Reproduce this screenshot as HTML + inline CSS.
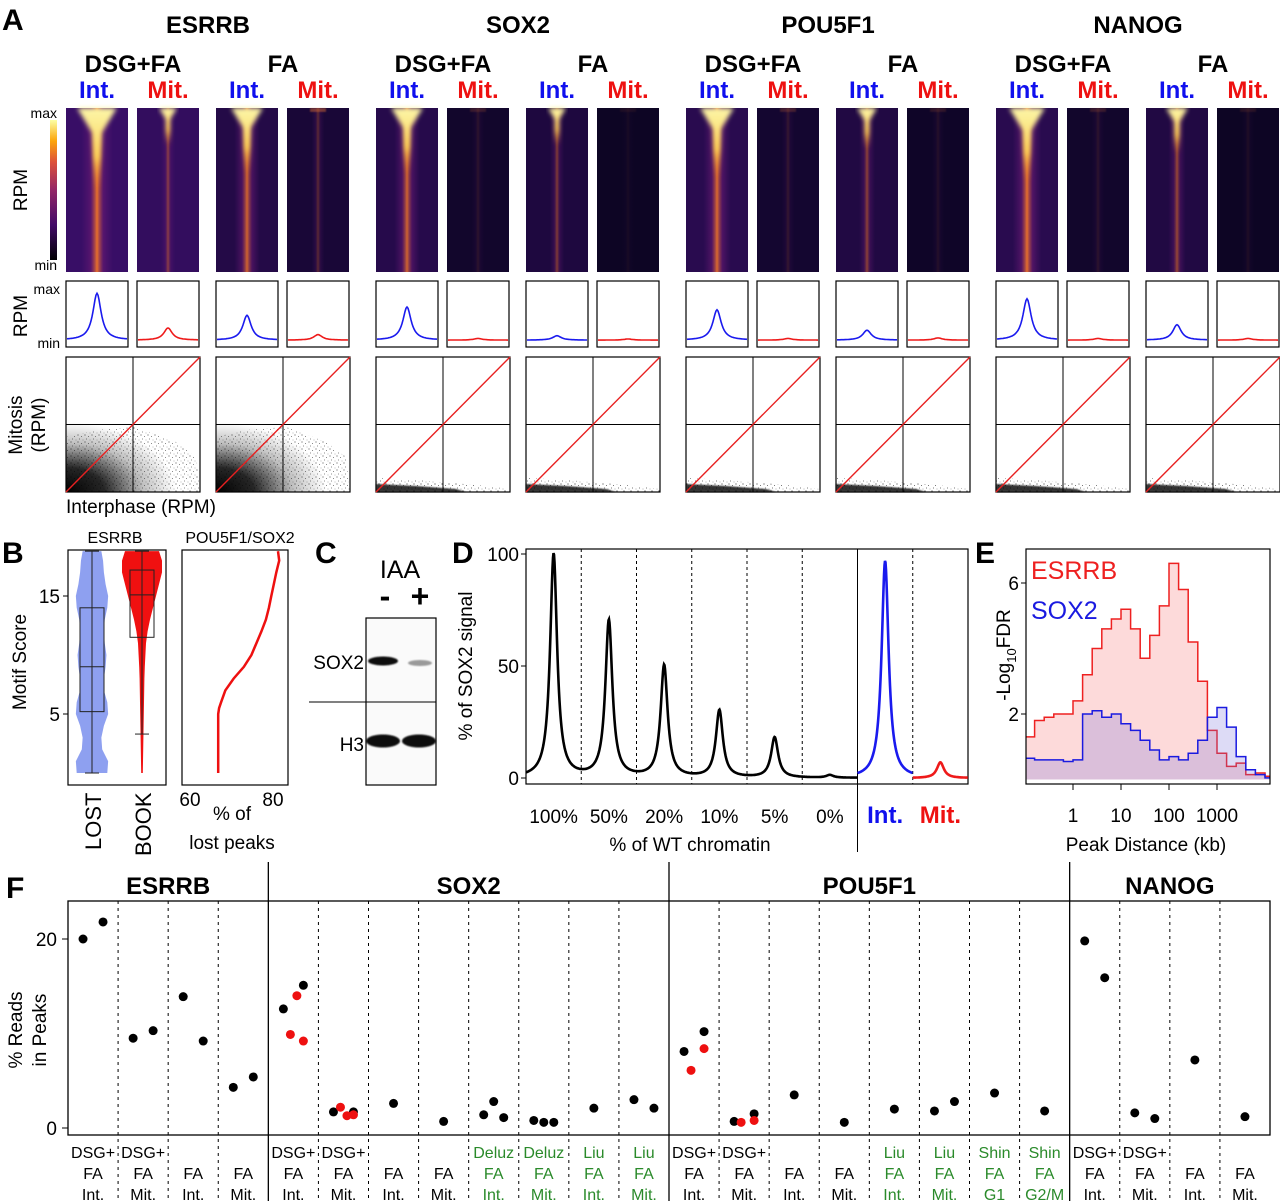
<!DOCTYPE html>
<html><head><meta charset="utf-8">
<style>
html,body{margin:0;padding:0;background:#fff;}
svg{display:block;font-family:"Liberation Sans",Arial,sans-serif;}
</style></head>
<body>
<svg id="fig" width="1280" height="1201" viewBox="0 0 1280 1201" xmlns="http://www.w3.org/2000/svg">
<defs>
<linearGradient id="cbar" x1="0" y1="1" x2="0" y2="0">
<stop offset="0" stop-color="#000004"/><stop offset="0.25" stop-color="#420a68"/><stop offset="0.5" stop-color="#932667"/><stop offset="0.7" stop-color="#dd513a"/><stop offset="0.85" stop-color="#fca50a"/><stop offset="1" stop-color="#fcffa4"/>
</linearGradient>
<linearGradient id="band" x1="0" y1="0" x2="1" y2="0">
<stop offset="0" stop-color="#5a1670" stop-opacity="0"/><stop offset="0.3" stop-color="#6a1a72" stop-opacity="0.6"/><stop offset="0.5" stop-color="#e8702a"/><stop offset="0.7" stop-color="#6a1a72" stop-opacity="0.6"/><stop offset="1" stop-color="#5a1670" stop-opacity="0"/>
</linearGradient>
<linearGradient id="vfade" x1="0" y1="0" x2="0" y2="1">
<stop offset="0" stop-color="#fcf6a8"/><stop offset="0.6" stop-color="#fbd35a"/><stop offset="1" stop-color="#f08a2a" stop-opacity="0"/>
</linearGradient>
<radialGradient id="cloud" cx="0" cy="1" r="1">
<stop offset="0" stop-color="#000" stop-opacity="1"/><stop offset="0.35" stop-color="#000" stop-opacity="0.85"/><stop offset="0.7" stop-color="#000" stop-opacity="0.25"/><stop offset="1" stop-color="#000" stop-opacity="0"/>
</radialGradient>
<filter id="blur3"><feGaussianBlur stdDeviation="2.5"/></filter>
<filter id="blur1"><feGaussianBlur stdDeviation="0.8"/></filter>
<pattern id="speck" width="7" height="7" patternUnits="userSpaceOnUse">
<circle cx="1" cy="1" r="0.6" fill="#000"/><circle cx="4.5" cy="2.5" r="0.5" fill="#000"/><circle cx="2.5" cy="5" r="0.5" fill="#000"/><circle cx="6" cy="6" r="0.4" fill="#000"/>
</pattern>
<clipPath id="clipE"><rect x="1026" y="549" width="244" height="235"/></clipPath>
</defs>
</svg>
<script>
// ---------- DATA ----------
const tfNames = ["ESRRB","SOX2","POU5F1","NANOG"];
const heatIntensity = [[1.0,0.45,0.8,0.3],[0.8,0.12,0.45,0.05],[0.85,0.15,0.5,0.1],[0.9,0.12,0.55,0.08]];
const heatBackground = [[0.9,0.8,0.5,0.3],[0.55,0.15,0.4,0.05],[0.6,0.2,0.45,0.1],[0.6,0.15,0.45,0.05]];
const profilePeak = [[0.85,0.22,0.45,0.1],[0.6,0.03,0.08,0.02],[0.55,0.03,0.18,0.04],[0.75,0.03,0.28,0.03]];
const scatterSpread = [[1.0,1.0],[0.35,0.3],[0.35,0.3],[0.3,0.3]];

const motifScores = [0,1,2,3,4,5,6,7,8,9,10,11,12,13,14,15,16,17,18,18.8];
const lostDensity = [0.9,0.95,0.6,0.55,0.7,0.95,0.9,0.7,0.7,0.8,0.85,0.75,0.7,0.75,0.9,0.95,0.8,0.7,0.65,0.55];
const bookDensity = [0.04,0.05,0.06,0.07,0.08,0.09,0.1,0.11,0.12,0.14,0.17,0.2,0.28,0.4,0.55,0.7,0.85,1.0,1.0,0.85];
const lostBox = [0, 5.2, 9.0, 14.0, 18.8];
const bookBox = [3.3, 11.5, 15.1, 17.2, 18.8];
const cumScores = [0,5,5.5,6,7,8,9,10,11,12,13,14,15,16,17,18,18.8];
const cumPercent = [66.8,66.8,67.0,67.5,68.5,70.5,73,74.8,76,77.2,78.3,79,79.6,80.2,80.8,81.5,81.2];

const dLabels = ["100%","50%","20%","10%","5%","0%","Int.","Mit."];
const dPeaks = [100,70,50,30,18,1.2,97,7];

const eBinStart = -1.0, eBinWidth = 0.2;
const esrrbFDR = [1.3,1.8,1.9,2.0,2.0,2.4,3.2,4.0,4.6,4.9,5.2,4.6,3.7,4.4,5.3,6.6,5.8,4.2,3.0,1.5,0.8,0.4,0.5,0.15,0.2,0.1];
const sox2FDR  = [0.65,0.6,0.6,0.6,0.55,0.6,2.0,2.1,1.9,2.0,1.7,1.5,1.2,0.9,0.6,0.7,0.6,0.8,1.2,1.9,2.2,1.6,0.7,0.3,0.15,0.05];
const eTicks = [1,10,100,1000];

const fGroups = ["ESRRB","SOX2","POU5F1","NANOG"];
const fGroupSize = [4,8,8,4];
const fLine1 = ["DSG+","DSG+","","","DSG+","DSG+","","","Deluz","Deluz","Liu","Liu","DSG+","DSG+","","","Liu","Liu","Shin","Shin","DSG+","DSG+","",""];
const fLine2 = ["FA","FA","FA","FA","FA","FA","FA","FA","FA","FA","FA","FA","FA","FA","FA","FA","FA","FA","FA","FA","FA","FA","FA","FA"];
const fLine3 = ["Int.","Mit.","Int.","Mit.","Int.","Mit.","Int.","Mit.","Int.","Mit.","Int.","Mit.","Int.","Mit.","Int.","Mit.","Int.","Mit.","G1","G2/M","Int.","Mit.","Int.","Mit."];
const fPublished = [0,0,0,0,0,0,0,0,1,1,1,1,0,0,0,0,1,1,1,1,0,0,0,0];
const fBlack = [[20,21.8],[9.5,10.3],[13.9,9.2],[4.3,5.4],[12.6,15.1],[1.7,1.7],[2.6],[0.7],[1.4,2.8,1.1],[0.8,0.6,0.6],[2.1],[3.0,2.1],
                [8.1,10.2],[0.7,1.5],[3.5],[0.6],[2.0],[1.8,2.8],[3.7],[1.8],[19.8,15.9],[1.6,1.0],[7.2],[1.2]];
const fRed = [[],[],[],[],[9.9,14.0,9.2],[2.2,1.3,1.4],[],[],[],[],[],[],
              [6.1,8.4],[0.6,0.8],[],[],[],[],[],[],[],[],[],[]];
const fTicks = [0,20];

// ---------- HELPERS ----------
const NS='http://www.w3.org/2000/svg';
const svg=document.getElementById('fig');
function mk(tag,attrs,parent){const e=document.createElementNS(NS,tag);for(const k in attrs)e.setAttribute(k,attrs[k]);(parent||svg).appendChild(e);return e;}
function tx(x,y,s,size,o){o=o||{};const e=mk('text',{x:x,y:y,'font-size':size,'text-anchor':o.anchor||'middle',fill:o.fill||'#000','font-weight':o.bold?'bold':'normal'},o.parent);if(o.rot)e.setAttribute('transform','rotate(-90 '+x+' '+y+')');e.textContent=s;return e;}
function g(name){const e=mk('g',{});return e;}
function mixHex(a,b,t){const pa=[1,3,5].map(i=>parseInt(a.substr(i,2),16)),pb=[1,3,5].map(i=>parseInt(b.substr(i,2),16));return 'rgb('+pa.map((v,i)=>Math.round(v+(pb[i]-v)*t)).join(',')+')';}

// ---------- PANEL A ----------
const gA=g('panel-a');
let t=tx(2,30,'A',30,{anchor:'start',bold:true,parent:gA});


let cb=mk('rect',{x:50,y:120,width:7,height:140,fill:'url(#cbar)'},gA);


t=tx(57,118,'max',14,{anchor:'end',parent:gA});


t=tx(57,270,'min',14,{anchor:'end',parent:gA});


t=tx(27,190,'RPM',19,{rot:true,parent:gA});


t=tx(27,316,'RPM',19,{rot:true,parent:gA});


t=tx(60,294,'max',14,{anchor:'end',parent:gA});


t=tx(60,348,'min',14,{anchor:'end',parent:gA});


t=tx(22,425,'Mitosis',19,{rot:true,parent:gA});


t=tx(45,425,'(RPM)',19,{rot:true,parent:gA});


t=tx(66,513,'Interphase (RPM)',19,{anchor:'start',parent:gA});



const colOff=[0,71,150,221];
tfNames.forEach((tf,gi)=>{
  const ox=66+310*gi;
  let tt=tx(ox+142,33,tf,24,{bold:true,parent:gA});
  
  
  tt=tx(ox+67,72,'DSG+FA',24,{bold:true,parent:gA});
  
  
  tt=tx(ox+217,72,'FA',24,{bold:true,parent:gA});
  
  
  colOff.forEach((co,ci)=>{
    const x=ox+co, w=62, cx=x+31;
    const isInt=ci%2===0;
    tt=tx(cx,98,isInt?'Int.':'Mit.',24,{bold:true,fill:isInt?'#1010ee':'#ee1010',parent:gA});
    
    
    const hg=mk('g',{},gA);
    
    
    const I=heatIntensity[gi][ci], B=heatBackground[gi][ci];
    mk('rect',{x:x,y:108,width:w,height:164,fill:mixHex('#0a0420','#3d0f6e',B)},hg);
    mk('rect',{x:cx-16*Math.max(I,0.4),y:108,width:32*Math.max(I,0.4),height:164,fill:'url(#band)',opacity:Math.min(1,I*1.1)},hg);
    if(I>0.3){
      const a=w*0.32*I, d=164*0.5*I;
      mk('polygon',{points:(cx-a)+',108 '+(cx+a)+',108 '+(cx+a*0.25)+','+(108+d*0.3)+' '+(cx+2)+','+(108+d)+' '+(cx-2)+','+(108+d)+' '+(cx-a*0.25)+','+(108+d*0.3),fill:'url(#vfade)',filter:'url(#blur3)'},hg);
    } else {
      mk('rect',{x:cx-8,y:108,width:16,height:4,fill:'#e07030',opacity:I*1.5,filter:'url(#blur1)'},hg);
    }
    const pg=mk('g',{},gA);
    
    
    mk('rect',{x:x,y:281,width:w,height:66,fill:'#fff',stroke:'#000','stroke-width':1.2},pg);
    const P=profilePeak[gi][ci];
    let d='';
    for(let k=0;k<=60;k++){const px=x+1+k; const u=(k-30)/5; const v=0.05+P/(1+u*u)*(1-0.05); d+=(k?'L':'M')+px+','+(343-v*58).toFixed(1);}
    mk('path',{d:d,fill:'none',stroke:isInt?'#1a1aee':'#ee1a1a','stroke-width':1.6},pg);
  });
  [0,1].forEach(si=>{
    const sx=ox+si*150, sw=134, sy=357, sh=135;
    const sg=mk('g',{},gA);
    
    
    mk('rect',{x:sx,y:sy,width:sw,height:sh,fill:'#fff',stroke:'#000','stroke-width':1.2},sg);
    const S=scatterSpread[gi][si];
    if(S>0.5){
      mk('polygon',{points:sx+','+(sy+sh)+' '+sx+','+(sy+sh-55)+' '+(sx+30)+','+(sy+sh-62)+' '+(sx+70)+','+(sy+sh-65)+' '+(sx+110)+','+(sy+sh-50)+' '+(sx+130)+','+(sy+sh-35)+' '+(sx+sw)+','+(sy+sh),fill:'url(#speck)',opacity:0.6},sg);
      mk('rect',{x:sx,y:sy+sh-70,width:110,height:70,fill:'url(#cloud)'},sg);
    } else {
      mk('polygon',{points:sx+','+(sy+sh)+' '+sx+','+(sy+sh-14)+' '+(sx+40)+','+(sy+sh-12)+' '+(sx+100)+','+(sy+sh-7)+' '+(sx+sw)+','+(sy+sh-3)+' '+(sx+sw)+','+(sy+sh),fill:'url(#speck)',opacity:0.7},sg);
      mk('polygon',{points:sx+','+(sy+sh)+' '+sx+','+(sy+sh-8)+' '+(sx+40)+','+(sy+sh-6)+' '+(sx+80)+','+(sy+sh-3)+' '+(sx+90)+','+(sy+sh),fill:'#000',opacity:0.8,filter:'url(#blur1)'},sg);
    }
    mk('line',{x1:sx+sw/2,y1:sy,x2:sx+sw/2,y2:sy+sh,stroke:'#000','stroke-width':1},sg);
    mk('line',{x1:sx,y1:sy+sh/2,x2:sx+sw,y2:sy+sh/2,stroke:'#000','stroke-width':1},sg);
    mk('line',{x1:sx,y1:sy+sh,x2:sx+sw,y2:sy,stroke:'#e82020','stroke-width':1.4},sg);
  });
});

// ---------- PANEL B ----------
const gB=g('panel-b');
t=tx(2,563,'B',30,{anchor:'start',bold:true,parent:gB});


t=tx(115,543,'ESRRB',16,{parent:gB});


const bY=v=>596-(v-15)*11.8;
mk('rect',{x:68,y:550,width:98,height:235,fill:'#fff',stroke:'#000','stroke-width':1.2},gB);
[5,15].forEach(v=>{
  const l=mk('line',{x1:63,x2:68,y1:bY(v),y2:bY(v),stroke:'#000'},gB);
  
  
  const tt=tx(60,bY(v)+7,String(v),19,{anchor:'end',parent:gB});
  
  
});
t=tx(26,662,'Motif Score',19,{rot:true,parent:gB});


function violin(cx,dens,maxW,fill,name,box){
  const vg=mk('g',{},gB);
  
  
  let r='',l='';
  motifScores.forEach((s,i)=>{r+=(i?'L':'M')+(cx+dens[i]*maxW)+','+bY(s);});
  for(let i=motifScores.length-1;i>=0;i--){l+='L'+(cx-dens[i]*maxW)+','+bY(motifScores[i]);}
  mk('path',{d:r+l+'Z',fill:fill,stroke:'none'},vg);
  mk('line',{x1:cx,x2:cx,y1:bY(box[0]),y2:bY(box[4]),stroke:'#222'},vg);
  mk('rect',{x:cx-12,y:bY(box[3]),width:24,height:bY(box[1])-bY(box[3]),fill:'none',stroke:'#222'},vg);
  mk('line',{x1:cx-12,x2:cx+12,y1:bY(box[2]),y2:bY(box[2]),stroke:'#222'},vg);
  mk('line',{x1:cx-7,x2:cx+7,y1:bY(box[0]),y2:bY(box[0]),stroke:'#222'},vg);
  mk('line',{x1:cx-7,x2:cx+7,y1:bY(box[4]),y2:bY(box[4]),stroke:'#222'},vg);
}
violin(92,lostDensity,17,'#8ea0f0','violin-lost',lostBox);
violin(142,bookDensity,20,'#f01010','violin-book',bookBox);
t=tx(101,850,'LOST',22,{anchor:'start',rot:true,parent:gB});


t=tx(151,856,'BOOK',22,{anchor:'start',rot:true,parent:gB});


t=tx(240,543,'POU5F1/SOX2',16,{parent:gB});


mk('rect',{x:182,y:550,width:106,height:235,fill:'#fff',stroke:'#000','stroke-width':1.2},gB);
const cX=p=>190+(p-60)*4.15;
let cd='';cumScores.forEach((s,i)=>{cd+=(i?'L':'M')+cX(cumPercent[i]).toFixed(1)+','+bY(s).toFixed(1);});
const cp=mk('path',{d:cd,fill:'none',stroke:'#ee1010','stroke-width':2.5},gB);


[60,80].forEach(v=>{const tt=tx(cX(v),806,String(v),19,{parent:gB});});
t=tx(232,820,'% of',19,{parent:gB});


t=tx(232,849,'lost peaks',19,{parent:gB});



// ---------- PANEL C ----------
const gC=g('panel-c');
t=tx(315,563,'C',30,{anchor:'start',bold:true,parent:gC});


t=tx(400,578,'IAA',25,{parent:gC});


t=tx(385,607,'-',32,{bold:true,parent:gC});


t=tx(420,607,'+',32,{bold:true,parent:gC});


const blot=mk('g',{},gC);


mk('rect',{x:366,y:618,width:70,height:167,fill:'#fafafa',stroke:'#000','stroke-width':1.2},blot);
mk('ellipse',{cx:383,cy:661,rx:15,ry:4.5,fill:'#111',filter:'url(#blur1)'},blot);
mk('ellipse',{cx:420,cy:663,rx:12,ry:3,fill:'#999',filter:'url(#blur1)'},blot);
mk('ellipse',{cx:383,cy:741,rx:17,ry:6.5,fill:'#080808',filter:'url(#blur1)'},blot);
mk('ellipse',{cx:419,cy:741,rx:17,ry:6.5,fill:'#080808',filter:'url(#blur1)'},blot);
mk('line',{x1:309,x2:436,y1:702,y2:702,stroke:'#000'},gC);
t=tx(364,669,'SOX2',19,{anchor:'end',parent:gC});


t=tx(364,751,'H3',19,{anchor:'end',parent:gC});



// ---------- PANEL D ----------
const gD=g('panel-d');
t=tx(452,563,'D',30,{anchor:'start',bold:true,parent:gD});


const dX0=526, dSeg=55.25, dY=v=>778-v*2.24;
const dC=i=>dX0+dSeg*(i+0.5);
mk('rect',{x:526,y:549,width:442,height:235,fill:'#fff',stroke:'#000','stroke-width':1.2},gD);
for(let i=1;i<8;i++){
  const ln=mk('line',{x1:dX0+dSeg*i,x2:dX0+dSeg*i,y1:549,y2:i===6?852:784,stroke:'#000','stroke-width':1,'stroke-dasharray':i===6?'':'3,3'},gD);
  
  
}
[0,50,100].forEach(v=>{
  const ln=mk('line',{x1:521,x2:526,y1:dY(v),y2:dY(v),stroke:'#000'},gD);
  
  
  const tt=tx(519,dY(v)+7,String(v),19,{anchor:'end',parent:gD});
  
  
});
t=tx(472,666,'% of SOX2 signal',19,{rot:true,parent:gD});


function dCurve(x1,x2,idx,color,name){
  let d='';
  for(let x=x1;x<=x2;x+=0.5){let v=0;idx.forEach(i=>{const u=(x-dC(i))/4.2;v+=dPeaks[i]/(1+u*u);});d+=(x===x1?'M':'L')+x+','+dY(v).toFixed(1);}
  const p=mk('path',{d:d,fill:'none',stroke:color,'stroke-width':2.6},gD);
  
  
}
dCurve(526,dX0+dSeg*6,[0,1,2,3,4,5],'#000','titration-curve');
dCurve(dX0+dSeg*6,dX0+dSeg*7,[6],'#1a1aee','interphase-curve');
dCurve(dX0+dSeg*7,968,[7],'#ee1a1a','mitosis-curve');
dLabels.forEach((lb,i)=>{
  const tt=tx(dC(i),823,lb,i>=6?24:19,{bold:i>=6,fill:i===6?'#1010ee':(i===7?'#ee1010':'#000'),parent:gD});
  
  
});
t=tx(690,851,'% of WT chromatin',19,{parent:gD});



// ---------- PANEL E ----------
const gE=g('panel-e');
t=tx(975,563,'E',30,{anchor:'start',bold:true,parent:gE});


const eX=l=>1073+l*48, eY=v=>779.5-v*32.75;
function eStep(vals,stroke,fill,name){
  let d='M'+eX(eBinStart)+','+eY(0);
  vals.forEach((v,i)=>{const a=eBinStart+i*eBinWidth;d+='L'+eX(a).toFixed(1)+','+eY(v).toFixed(1)+'L'+eX(a+eBinWidth).toFixed(1)+','+eY(v).toFixed(1);});
  d+='L'+eX(eBinStart+vals.length*eBinWidth).toFixed(1)+','+eY(0);
  const p=mk('path',{d:d,fill:fill,stroke:stroke,'stroke-width':1.5,'clip-path':'url(#clipE)'},gE);
  
  
}
eStep(esrrbFDR,'#ee2020','rgba(250,150,150,0.35)','esrrb-histogram');
eStep(sox2FDR,'#1a1ae0','rgba(120,110,220,0.25)','sox2-histogram');
mk('rect',{x:1026,y:549,width:244,height:235,fill:'none',stroke:'#000','stroke-width':1.2},gE);
eTicks.forEach(v=>{
  const x=eX(Math.log10(v));
  const ln=mk('line',{x1:x,x2:x,y1:784,y2:790,stroke:'#000'},gE);
  
  
  const tt=tx(x,822,String(v),19,{parent:gE});
  
  
});
[2,6].forEach(v=>{
  const ln=mk('line',{x1:1021,x2:1026,y1:eY(v),y2:eY(v),stroke:'#000'},gE);
  
  
  const tt=tx(1019,eY(v)+7,String(v),19,{anchor:'end',parent:gE});
  
  
});
t=mk('text',{x:1010,y:655,'font-size':19,'text-anchor':'middle',transform:'rotate(-90 1010 655)'},gE);
t.innerHTML='-Log<tspan font-size="13" dy="6">10</tspan><tspan dy="-6">FDR</tspan>';


t=tx(1146,851,'Peak Distance (kb)',19,{parent:gE});


t=tx(1031,579,'ESRRB',25,{anchor:'start',fill:'#ee2020',parent:gE});


t=tx(1031,619,'SOX2',25,{anchor:'start',fill:'#1a1ae0',parent:gE});



// ---------- PANEL F ----------
const gF=g('panel-f');
t=tx(6,898,'F',30,{anchor:'start',bold:true,parent:gF});


const fX0=68, fCol=(1270-68)/24;
const fCX=i=>fX0+fCol*(i+0.5);
const fY=v=>1128-v*9.45;
mk('rect',{x:68,y:901,width:1202,height:234,fill:'none',stroke:'#000','stroke-width':1.3},gF);
let acc=0;
fGroups.forEach((gn,gi)=>{
  const tt=tx(fX0+fCol*(acc+fGroupSize[gi]/2),894,gn,24,{bold:true,parent:gF});
  
  
  acc+=fGroupSize[gi];
  if(gi<3){
    const ln=mk('line',{x1:fX0+fCol*acc,x2:fX0+fCol*acc,y1:862,y2:1201,stroke:'#000','stroke-width':1.3},gF);
    
    
  }
});
const groupEnds=[4,12,20];
for(let i=1;i<24;i++){
  if(groupEnds.includes(i))continue;
  const ln=mk('line',{x1:fX0+fCol*i,x2:fX0+fCol*i,y1:901,y2:1201,stroke:'#000','stroke-width':1,'stroke-dasharray':'3,4'},gF);
  
  
}
fTicks.forEach(v=>{
  const ln=mk('line',{x1:62,x2:68,y1:fY(v),y2:fY(v),stroke:'#000'},gF);
  
  
  const tt=tx(57,fY(v)+7,String(v),19,{anchor:'end',parent:gF});
  
  
});
t=tx(22,1030,'% Reads',19,{rot:true,parent:gF});


t=tx(46,1030,'in Peaks',19,{rot:true,parent:gF});


for(let i=0;i<24;i++){
  const c=fPublished[i]?'#2a8a2a':'#000';
  [fLine1[i],fLine2[i],fLine3[i]].forEach((s,k)=>{
    if(!s)return;
    const tt=tx(fCX(i),1158+k*21,s,16,{fill:c,parent:gF});
    
    
  });
  const nb=fBlack[i].length;
  fBlack[i].forEach((v,k)=>{
    const off=nb===1?0:(-10+20*k/(nb-1));
    const dot=mk('circle',{cx:fCX(i)+off,cy:fY(v),r:4.5,fill:'#000'},gF);
    
    
  });
  const nr=fRed[i].length;
  fRed[i].forEach((v,k)=>{
    const off=nr===1?6:(-3+13*k/(nr-1));
    const dot=mk('circle',{cx:fCX(i)+off,cy:fY(v),r:4.5,fill:'#ee1010'},gF);
    
    
  });
}
</script>
</body></html>
